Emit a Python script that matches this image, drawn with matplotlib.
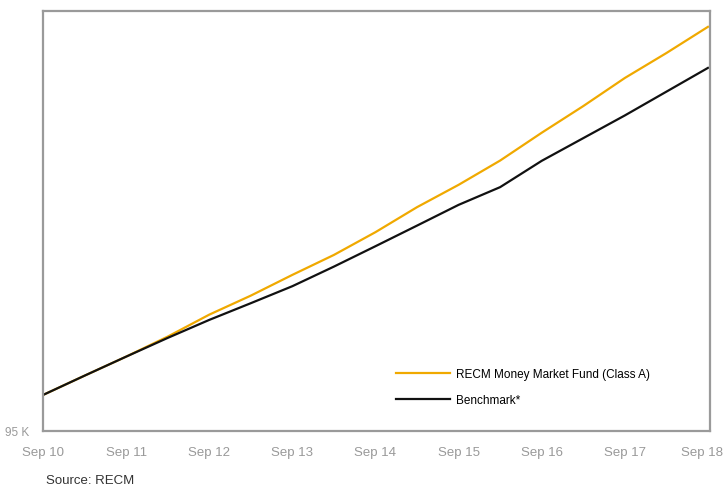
import matplotlib
matplotlib.use("Agg")
import matplotlib.pyplot as plt
from matplotlib import font_manager
from matplotlib.transforms import ScaledTranslation

# Data (values in thousands) at half-year steps (months since Sep 2010)
months = [0, 6, 12, 18, 24, 30, 36, 42, 48, 54, 60, 66, 72, 78, 84, 90, 96]
fund = [100.0, 102.68, 105.32, 108.10, 111.15, 113.79, 116.67, 119.44, 122.60,
        126.07, 129.17, 132.54, 136.40, 140.10, 144.00, 147.46, 151.10]
benchmark = [100.0, 102.68, 105.32, 107.92, 110.42, 112.74, 115.10, 117.82, 120.65,
             123.51, 126.39, 128.85, 132.50, 135.65, 138.80, 142.10, 145.40]
tick_months = [0, 12, 24, 36, 48, 60, 72, 84, 96]
tick_labels = ["Sep 10", "Sep 11", "Sep 12", "Sep 13", "Sep 14", "Sep 15",
               "Sep 16", "Sep 17", "Sep 18"]
series_names = ["RECM Money Market Fund (Class A)", "Benchmark*"]

names = {f.name for f in font_manager.fontManager.ttflist}
fam = ["Liberation Sans Narrow", "Liberation Sans", "DejaVu Sans"]
fam = [f for f in fam if f in names] or ["DejaVu Sans"]
plt.rcParams["font.family"] = fam

fig = plt.figure(figsize=(7.24, 4.89), dpi=100)
ax = fig.add_axes([43/724, 1-432/489, 667/724, 420/489])

ax.plot(months, fund, color="#F0A900", lw=1.6, label=series_names[0])
ax.plot(months, benchmark, color="#111111", lw=1.6, label=series_names[1])

ax.set_xlim(0, 96.3)
ax.set_ylim(95, 153.3)
ax.set_xticks(tick_months)
ax.set_xticklabels(tick_labels)
ax.set_yticks([95])
ax.set_yticklabels(["95 K"])
ax.tick_params(axis="x", length=0, pad=11, labelsize=9.5, colors="#999999")
ax.tick_params(axis="y", length=0, pad=10, labelsize=8.5, colors="#999999")
for s in ax.spines.values():
    s.set_color("#9a9a9a")
    s.set_linewidth(1.6)

last = ax.get_xticklabels()[-1]
last.set_transform(last.get_transform() + ScaledTranslation(-6/100, 0, fig.dpi_scale_trans))

leg = ax.legend(loc="upper left", bbox_to_anchor=(0.529, 0.15), frameon=False,
                fontsize=8.5, handlelength=4.6, handletextpad=0.5,
                labelspacing=1.2, borderaxespad=0, borderpad=0)

fig.text(46/724, 1-475/489, "Source: RECM", fontsize=9.5, color="#333333",
         va="top", ha="left")

fig.savefig("out.png", dpi=100)
